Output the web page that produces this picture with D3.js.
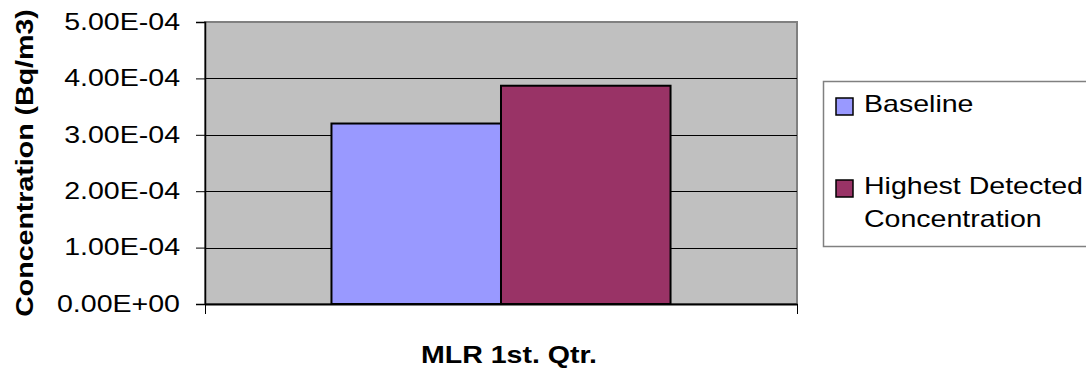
<!DOCTYPE html>
<html>
<head>
<meta charset="utf-8">
<script src="https://cdn.jsdelivr.net/npm/d3@7"></script>
<style>
  html, body { margin: 0; padding: 0; background: #fff; }
  svg { display: block; font-family: "Liberation Sans", Arial, sans-serif; }
</style>
</head>
<body>
<svg id="chart" width="1086" height="368"></svg>
<script>
const categories = ["MLR 1st. Qtr."];
const seriesNames = ["Baseline", "Highest Detected Concentration"];
const seriesValues = [[3.2e-4], [3.87e-4]];
const seriesColors = ["#9999FF", "#993366"];
const yTicks = [0, 1e-4, 2e-4, 3e-4, 4e-4, 5e-4];
const yTitle = "Concentration (Bq/m3)";

const STRETCH = 1.19; // glyphs in the reference are wider than plain Arial
const svg = d3.select("#chart");
const plot = { left: 205, right: 797, top: 22, bottom: 304 };

const y = d3.scaleLinear().domain([0, 5e-4]).range([plot.bottom, plot.top]);
const x0 = d3.scaleBand().domain(categories).range([plot.left, plot.right])
  .paddingInner(0).paddingOuter(0.373);
const x1 = d3.scaleBand().domain(seriesNames).range([0, x0.bandwidth()]).padding(0);

function sci(v) {
  const s = d3.format(".2e")(v);
  const [m, e] = s.split("e");
  const sign = e[0] === "-" ? "-" : "+";
  const digits = e.replace(/^[+-]/, "").padStart(2, "0");
  return m + "E" + sign + digits;
}

// plot background
svg.append("rect")
  .attr("x", plot.left).attr("y", plot.top)
  .attr("width", plot.right - plot.left).attr("height", plot.bottom - plot.top)
  .attr("fill", "#C0C0C0").attr("stroke", "#808080").attr("stroke-width", 2);

// gridlines
svg.append("g").selectAll("line").data(yTicks.filter(d => d > 0 && d < 5e-4)).join("line")
  .attr("x1", plot.left).attr("x2", plot.right)
  .attr("y1", d => Math.round(y(d)) + 0.5).attr("y2", d => Math.round(y(d)) + 0.5)
  .attr("stroke", "#000").attr("stroke-width", 1);

// bars
const groups = svg.append("g").selectAll("g").data(categories).join("g")
  .attr("transform", c => `translate(${x0(c)},0)`);
groups.selectAll("rect").data((c, ci) => seriesNames.map((s, si) => ({ s, v: seriesValues[si][ci], color: seriesColors[si] })))
  .join("rect")
  .attr("x", d => x1(d.s)).attr("width", x1.bandwidth())
  .attr("y", d => y(d.v)).attr("height", d => y(0) - y(d.v))
  .attr("fill", d => d.color).attr("stroke", "#000").attr("stroke-width", 2);

// y axis
const yAxis = d3.axisLeft(y).tickValues(yTicks).tickFormat(sci).tickSize(9).tickPadding(25);
const ya = svg.append("g").attr("transform", `translate(${plot.left},0)`).call(yAxis);
ya.select(".domain").attr("stroke", "#000").attr("stroke-width", 1.5);
ya.selectAll(".tick line").attr("stroke", "#000");
ya.selectAll(".tick text").attr("font-size", 24).attr("fill", "#000")
  .attr("font-family", "Liberation Sans, Arial, sans-serif")
  .attr("x", null).attr("dy", "0.3em")
  .attr("transform", `translate(-25,0) scale(${STRETCH},1)`);

// x axis
const xAxis = d3.axisBottom(d3.scaleLinear().domain([0, 1]).range([plot.left, plot.right]))
  .tickValues([0, 1]).tickFormat("").tickSize(10).tickSizeOuter(0);
const xa = svg.append("g").attr("transform", `translate(0,${plot.bottom})`).call(xAxis);
xa.select(".domain").attr("stroke", "#000").attr("stroke-width", 2);
xa.selectAll(".tick line").attr("stroke", "#000");

// x axis title
svg.append("text")
  .attr("transform", `translate(${x0(categories[0]) + x0.bandwidth() / 2 + 8},363) scale(${STRETCH},1)`)
  .attr("text-anchor", "middle").attr("font-size", 24).attr("font-weight", "bold")
  .text(categories[0]);

// y axis title
svg.append("text")
  .attr("transform", `translate(33,163) rotate(-90) scale(${STRETCH},1)`)
  .attr("text-anchor", "middle").attr("font-size", 24).attr("font-weight", "bold")
  .text(yTitle);

// legend
const lg = svg.append("g");
lg.append("rect").attr("x", 823.5).attr("y", 81.5).attr("width", 270).attr("height", 165)
  .attr("fill", "#fff").attr("stroke", "#808080").attr("stroke-width", 1.5);
const legendRows = [
  { lines: [seriesNames[0]], y: 104 },
  { lines: ["Highest Detected", "Concentration"], y: 186 }
];
legendRows.forEach((r, i) => {
  lg.append("rect").attr("x", 836).attr("y", r.y - 6).attr("width", 17).attr("height", 17)
    .attr("fill", seriesColors[i]).attr("stroke", "#000").attr("stroke-width", 1.5);
  r.lines.forEach((t, j) => {
    lg.append("text")
      .attr("transform", `translate(864,${r.y + j * 33}) scale(${STRETCH},1)`)
      .attr("dy", "0.35em").attr("font-size", 24).text(t);
  });
});
</script>
</body>
</html>
